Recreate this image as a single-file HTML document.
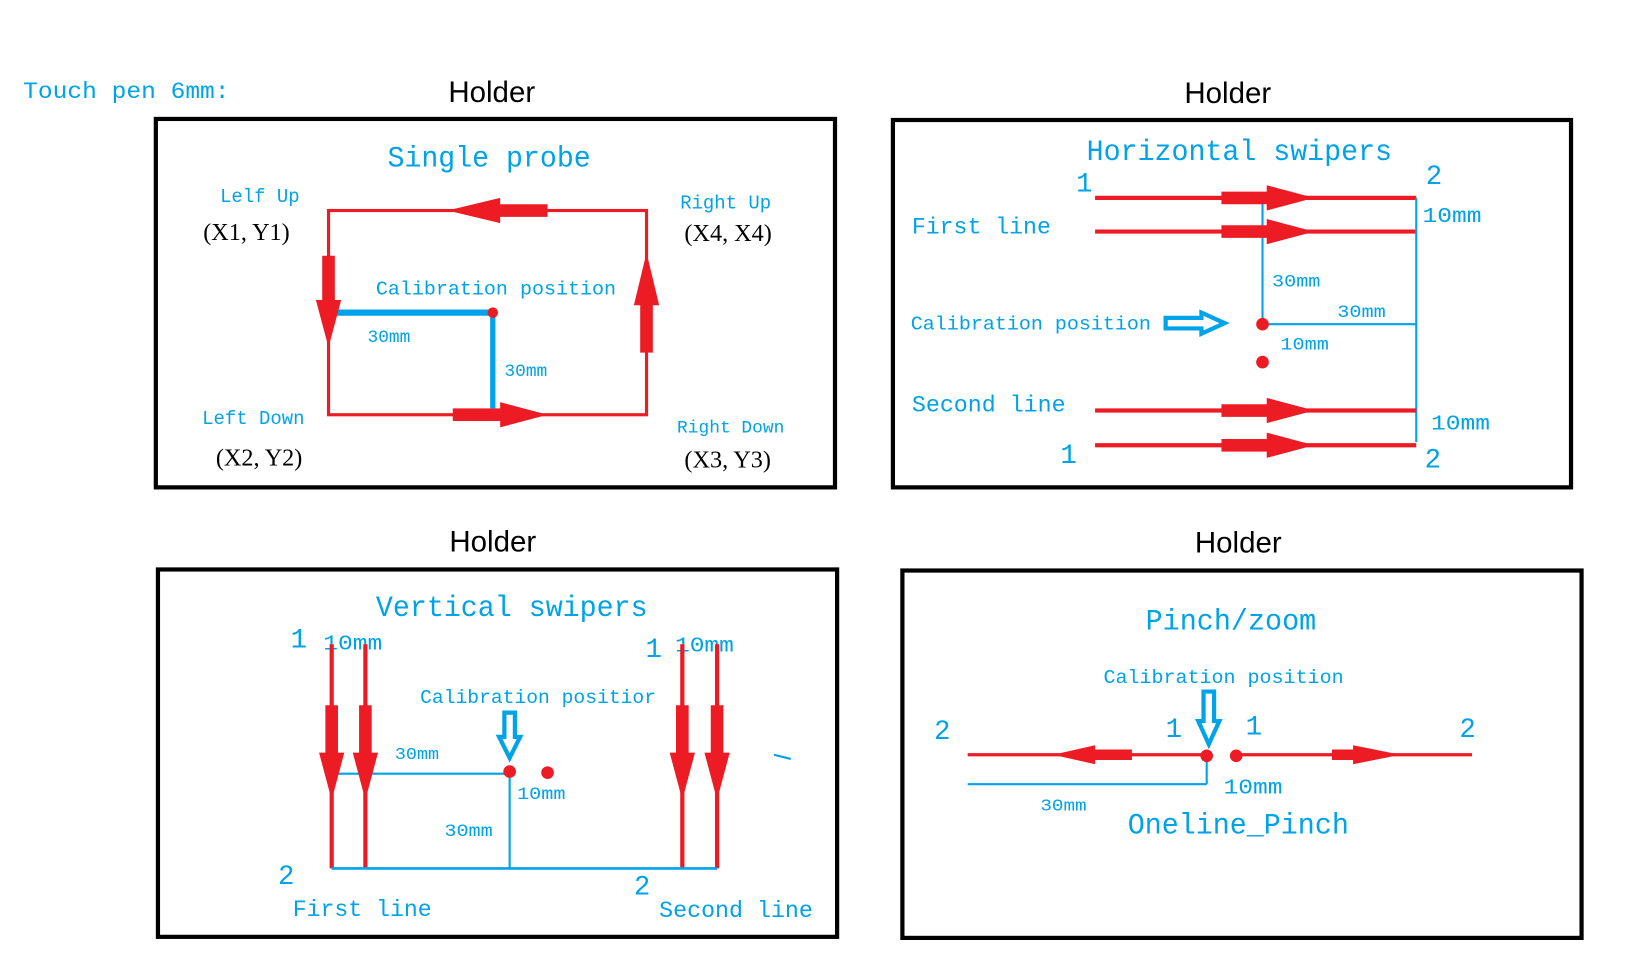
<!DOCTYPE html>
<html><head><meta charset="utf-8"><style>
html,body{margin:0;padding:0;background:#fff;}
svg{display:block}
.b{fill:#00a2e8;font-family:"Liberation Mono","Noto Sans CJK SC",monospace;}
.k{fill:#000;font-family:"Liberation Serif","Noto Serif CJK SC",serif;}
.h{fill:#000;font-family:"Liberation Sans","DejaVu Sans",sans-serif;font-size:28px;text-anchor:middle;}
.box{fill:none;stroke:#000;stroke-width:4}
.r{stroke:#ed1c24;fill:none}
.bl{stroke:#00a2e8;fill:none}
</style></head><body>
<svg id="s" width="1650" height="960" viewBox="0 0 1567 912" preserveAspectRatio="none" xmlns="http://www.w3.org/2000/svg">
<text class="b" x="22" y="93" font-size="22" textLength="196" lengthAdjust="spacingAndGlyphs">Touch pen 6mm:</text>
<text class="h" x="467" y="97">Holder</text>
<text class="h" x="1166" y="98">Holder</text>
<text class="h" x="468" y="524">Holder</text>
<text class="h" x="1176" y="525">Holder</text>

<!-- Box 1 -->
<rect class="box" x="148" y="113" width="645" height="350"/>
<text class="b" x="368" y="158" font-size="28" textLength="193" lengthAdjust="spacingAndGlyphs">Single probe</text>
<text class="b" x="209" y="192" font-size="18">Lelf Up</text>
<text class="k" x="193" y="228" font-size="23">(X1, Y1)</text>
<rect class="r" x="312" y="200" width="302" height="194" stroke-width="3"/>
<line class="bl" x1="320" y1="297" x2="468" y2="297" stroke-width="6"/>
<line class="bl" x1="468" y1="297" x2="468" y2="388" stroke-width="5"/>
<circle cx="468" cy="297" r="5" fill="#ed1c24"/>
<text class="b" x="357" y="280" font-size="18" textLength="228" lengthAdjust="spacingAndGlyphs">Calibration position</text>
<text class="b" x="349" y="325" font-size="17">30mm</text>
<text class="b" x="479" y="357" font-size="17">30mm</text>
<text class="b" x="646" y="198" font-size="18">Right Up</text>
<text class="k" x="650" y="229" font-size="23">(X4, X4)</text>
<text class="b" x="192" y="403" font-size="18">Left Down</text>
<text class="k" x="205" y="442" font-size="23">(X2, Y2)</text>
<text class="b" x="643" y="411" font-size="17">Right Down</text>
<text class="k" x="650" y="444" font-size="23">(X3, Y3)</text>

<!-- Box 2 -->
<rect class="box" x="848" y="114" width="644" height="349"/>
<text class="b" x="1032" y="152" font-size="28" textLength="290" lengthAdjust="spacingAndGlyphs">Horizontal swipers</text>
<text class="b" x="1022" y="182" font-size="26">1</text>
<text class="b" x="1354" y="175" font-size="26">2</text>
<line class="r" x1="1040" y1="188" x2="1345" y2="188" stroke-width="4"/>
<line class="r" x1="1040" y1="220" x2="1345" y2="220" stroke-width="4"/>
<line class="bl" x1="1199" y1="192" x2="1199" y2="308" stroke-width="2"/>
<line class="bl" x1="1199" y1="308" x2="1345" y2="308" stroke-width="2"/>
<line class="bl" x1="1345" y1="188" x2="1345" y2="420" stroke-width="2"/>
<text class="b" x="866" y="222" font-size="22" textLength="132" lengthAdjust="spacingAndGlyphs">First line</text>
<text class="b" x="1351" y="211" font-size="20" textLength="56" lengthAdjust="spacingAndGlyphs">10mm</text>
<text class="b" x="1208" y="272" font-size="17" textLength="46" lengthAdjust="spacingAndGlyphs">30mm</text>
<text class="b" x="1270" y="301" font-size="17" textLength="46" lengthAdjust="spacingAndGlyphs">30mm</text>
<text class="b" x="1216" y="332" font-size="17" textLength="46" lengthAdjust="spacingAndGlyphs">10mm</text>
<text class="b" x="865" y="313" font-size="18" textLength="228" lengthAdjust="spacingAndGlyphs">Calibration position</text>
<circle cx="1199" cy="308" r="6" fill="#ed1c24"/>
<circle cx="1199" cy="344" r="6" fill="#ed1c24"/>
<text class="b" x="866" y="391" font-size="22" textLength="146" lengthAdjust="spacingAndGlyphs">Second line</text>
<line class="r" x1="1040" y1="390" x2="1345" y2="390" stroke-width="4"/>
<line class="r" x1="1040" y1="423" x2="1345" y2="423" stroke-width="4"/>
<text class="b" x="1359" y="408" font-size="20" textLength="56" lengthAdjust="spacingAndGlyphs">10mm</text>
<text class="b" x="1007" y="440" font-size="26">1</text>
<text class="b" x="1353" y="444" font-size="26">2</text>

<!-- Box 3 -->
<rect class="box" x="150" y="541" width="645" height="349"/>
<text class="b" x="357" y="585" font-size="28" textLength="258" lengthAdjust="spacingAndGlyphs">Vertical swipers</text>
<text class="b" x="276" y="615" font-size="26">1</text>
<text class="b" x="307" y="617" font-size="20" textLength="56" lengthAdjust="spacingAndGlyphs">10mm</text>
<text class="b" x="613" y="624" font-size="26">1</text>
<text class="b" x="641" y="619" font-size="20" textLength="56" lengthAdjust="spacingAndGlyphs">10mm</text>
<line class="r" x1="315" y1="612" x2="315" y2="825" stroke-width="4"/>
<line class="r" x1="347" y1="612" x2="347" y2="825" stroke-width="4"/>
<line class="r" x1="648" y1="612" x2="648" y2="825" stroke-width="4"/>
<line class="r" x1="681" y1="612" x2="681" y2="825" stroke-width="4"/>
<line class="bl" x1="315" y1="735" x2="484" y2="735" stroke-width="2"/>
<line class="bl" x1="484" y1="735" x2="484" y2="825" stroke-width="2"/>
<line class="bl" x1="315" y1="825" x2="681" y2="825" stroke-width="2.5"/>
<text class="b" x="375" y="721" font-size="16" textLength="42" lengthAdjust="spacingAndGlyphs">30mm</text>
<text class="b" x="399" y="668" font-size="18" textLength="224" lengthAdjust="spacingAndGlyphs">Calibration positior</text>
<circle cx="484" cy="733" r="6" fill="#ed1c24"/>
<circle cx="520" cy="734" r="6" fill="#ed1c24"/>
<text class="b" x="491" y="759" font-size="17" textLength="46" lengthAdjust="spacingAndGlyphs">10mm</text>
<text class="b" x="422" y="794" font-size="17" textLength="46" lengthAdjust="spacingAndGlyphs">30mm</text>
<text class="b" x="264" y="840" font-size="26">2</text>
<text class="b" x="278" y="870" font-size="22" textLength="132" lengthAdjust="spacingAndGlyphs">First line</text>
<text class="b" x="602" y="850" font-size="26">2</text>
<text class="b" x="626" y="871" font-size="22" textLength="146" lengthAdjust="spacingAndGlyphs">Second line</text>
<line class="bl" x1="735" y1="717" x2="751" y2="721" stroke-width="2"/>

<!-- Box 4 -->
<rect class="box" x="857" y="542" width="645" height="349"/>
<text class="b" x="1088" y="598" font-size="28" textLength="162" lengthAdjust="spacingAndGlyphs">Pinch/zoom</text>
<text class="b" x="1048" y="649" font-size="18" textLength="228" lengthAdjust="spacingAndGlyphs">Calibration position</text>
<text class="b" x="887" y="702" font-size="26">2</text>
<text class="b" x="1107" y="700" font-size="26">1</text>
<text class="b" x="1183" y="698" font-size="26">1</text>
<text class="b" x="1386" y="700" font-size="26">2</text>
<line class="r" x1="919" y1="717" x2="1146" y2="717" stroke-width="3"/>
<line class="r" x1="1174" y1="717" x2="1398" y2="717" stroke-width="3"/>
<line class="bl" x1="919" y1="745" x2="1146" y2="745" stroke-width="2"/>
<line class="bl" x1="1146" y1="718" x2="1146" y2="745" stroke-width="2"/>
<circle cx="1146" cy="718" r="6" fill="#ed1c24"/>
<circle cx="1174" cy="718" r="6" fill="#ed1c24"/>
<text class="b" x="988" y="770" font-size="16" textLength="44" lengthAdjust="spacingAndGlyphs">30mm</text>
<text class="b" x="1162" y="754" font-size="20" textLength="56" lengthAdjust="spacingAndGlyphs">10mm</text>
<text class="b" x="1071" y="792" font-size="28" textLength="210" lengthAdjust="spacingAndGlyphs">Oneline_Pinch</text>
<g id="arr"></g>
</svg>
<script>
var g=document.getElementById('arr'),NS='http://www.w3.org/2000/svg';
function arrow(x1,y1,x2,y2,sw,hw,hl,col){
 var dx=x2-x1,dy=y2-y1,L=Math.hypot(dx,dy),ux=dx/L,uy=dy/L,px=-uy,py=ux;
 var bx=x2-ux*hl,by=y2-uy*hl;
 var pts=[[x1+px*sw/2,y1+py*sw/2],[bx+px*sw/2,by+py*sw/2],[bx+px*hw/2,by+py*hw/2],[x2,y2],[bx-px*hw/2,by-py*hw/2],[bx-px*sw/2,by-py*sw/2],[x1-px*sw/2,y1-py*sw/2]];
 var p=document.createElementNS(NS,'polygon');
 p.setAttribute('points',pts.map(function(a){return a[0]+','+a[1]}).join(' '));
 p.setAttribute('fill',col);g.appendChild(p);return p;
}
var R='#ed1c24';
arrow(520,200,425,200,12,24,50,R);
arrow(312,243,312,330,12,24,45,R);
arrow(614,335,614,240,12,24,50,R);
arrow(430,394,520,394,12,24,45,R);
[188,220,390,423].forEach(function(y){arrow(1160,y,1248,y,12,24,45,R);});
[315,347,648,681].forEach(function(x){arrow(x,670,x,760,12,24,45,R);});
arrow(1075,717,1000,717,10,18,40,R);
arrow(1265,717,1330,717,10,18,45,R);
var b1=arrow(1107,307,1163,307,10,20,22,'#fff');b1.setAttribute('stroke','#00a2e8');b1.setAttribute('stroke-width','4');
var b2=arrow(484,677,484,720,10,20,20,'#fff');b2.setAttribute('stroke','#00a2e8');b2.setAttribute('stroke-width','4');
var b3=arrow(1148,657,1148,707,10,20,22,'#fff');b3.setAttribute('stroke','#00a2e8');b3.setAttribute('stroke-width','4');
</script>
</body></html>
